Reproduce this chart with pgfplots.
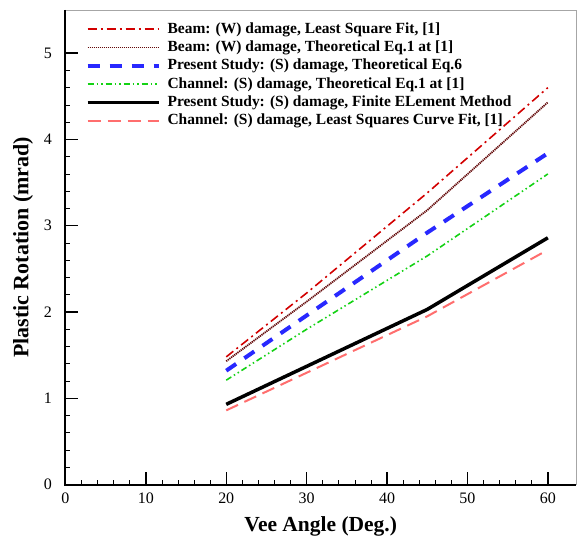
\documentclass[border=0pt]{standalone}
\usepackage{fontspec}
\setmainfont{Liberation Serif}
\usepackage{pgfplots}
\pgfplotsset{compat=1.18}

\definecolor{cred}{RGB}{210,0,0}
\definecolor{cbrown}{RGB}{100,10,10}
\definecolor{cblue}{RGB}{40,40,255}
\definecolor{cgreen}{RGB}{20,210,20}
\definecolor{cpink}{RGB}{255,110,110}

\begin{document}
\begin{tikzpicture}
\begin{axis}[
  scale only axis,
  width=511pt, height=475pt,
  xmin=0, xmax=63.5,
  ymin=0, ymax=5.5,
  xtick={0,10,...,60},
  ytick={0,1,...,5},
  minor tick num=4,
  tick pos=left,
  tick align=inside,
  major tick length=13pt,
  minor tick length=5pt,
  every tick/.style={black, line width=1.4pt},
  every minor tick/.style={black, line width=0.7pt},
  axis line style={gray!70, line width=0.7pt},
  /pgf/number format/assume math mode=true,
  ticklabel style={font=\fontsize{16}{18}\selectfont},
  yticklabel style={xshift=-10pt},
  xticklabel style={yshift=-5pt},
  xlabel={\textbf{Vee Angle (Deg.)}},
  ylabel={\textbf{Plastic Rotation (mrad)}},
  xlabel style={font=\fontsize{21.5}{24}\selectfont, yshift=-6pt},
  ylabel style={font=\fontsize{22}{24}\selectfont, yshift=4pt},
  clip=false,
  legend cell align=left,
  legend style={at={(rel axis cs:0,1)}, anchor=north west,
    xshift=20pt, yshift=-10pt, draw=none, fill=none, inner sep=0pt,
    row sep=0.3pt,
    nodes={inner xsep=1pt, inner ysep=1pt, text height=12pt, text depth=4pt,
      font=\fontsize{15.5}{18}\selectfont\bfseries}},
  legend image code/.code={\draw[#1] (0pt,0pt) -- (71pt,0pt); \path (77pt,0pt);},
]
\addplot[cred, line width=1.6pt, dash pattern=on 9pt off 4pt on 2pt off 4pt] coordinates {
  (20,1.48) (30,2.22) (45,3.38) (60,4.60)
};
\addlegendentry{Beam: (W) damage, Least Square Fit, [1]}
\addplot[cbrown, line width=1.8pt, dash pattern=on 1.2pt off 0.8pt] coordinates {
  (20,1.43) (30,2.12) (45,3.18) (60,4.43)
};
\addlegendentry{Beam: (W) damage, Theoretical Eq.1 at [1]}
\addplot[cblue, line width=4pt, dash pattern=on 12pt off 10pt] coordinates {
  (20,1.32) (30,1.96) (45,2.92) (60,3.84)
};
\addlegendentry{Present Study: (S) damage, Theoretical Eq.6}
\addplot[cgreen, line width=1.6pt, dash pattern=on 6pt off 3pt on 1.5pt off 3pt on 1.5pt off 3pt] coordinates {
  (20,1.21) (30,1.80) (45,2.65) (60,3.60)
};
\addlegendentry{Channel: (S) damage, Theoretical Eq.1 at [1]}
\addplot[black, line width=3.5pt] coordinates {
  (20,0.93) (45,2.03) (60,2.86)
};
\addlegendentry{Present Study: (S) damage, Finite ELement Method}
\addplot[cpink, line width=2pt, dash pattern=on 13pt off 7pt] coordinates {
  (20,0.86) (45,1.95) (60,2.72)
};
\addlegendentry{Channel: (S) damage, Least Squares Curve Fit, [1]}
\draw[black, line width=2pt] (rel axis cs:0,1) -- (rel axis cs:0,0) -- (rel axis cs:1,0);
\coordinate (O) at (rel axis cs:0,0);
\coordinate (T) at (rel axis cs:1,1);
\end{axis}
\pgfresetboundingbox
\path ([xshift=-65.5pt,yshift=-51pt]O) rectangle ([xshift=1pt,yshift=10pt]T);
\end{tikzpicture}
\end{document}
